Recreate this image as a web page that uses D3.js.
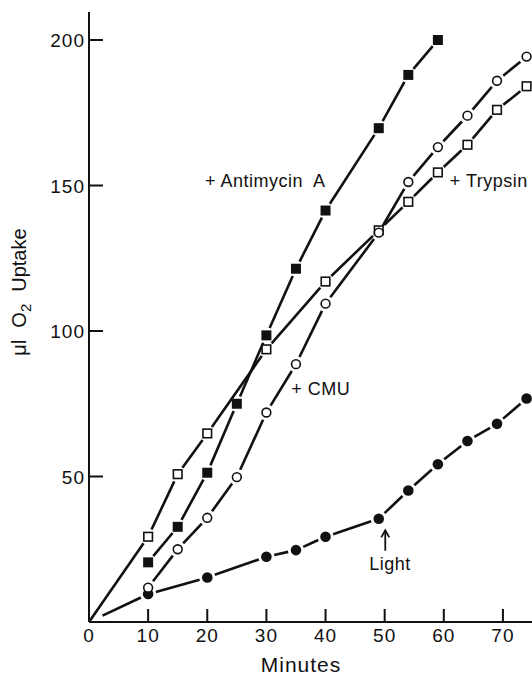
<!DOCTYPE html>
<html>
<head>
<meta charset="utf-8">
<script src="https://cdn.jsdelivr.net/npm/d3@7"></script>
<style>
  body { margin: 0; background: #fff; }
  svg { display: block; }
  text { font-family: "Liberation Sans", Arial, sans-serif; fill: #111; }
</style>
</head>
<body>
<div id="chart"></div>
<script>
// minutes / ul O2
const antimycinMin = [10, 15, 20, 25, 30, 35, 40, 49, 54, 59];
const antimycinO2 = [20.5, 32.7, 51.3, 75, 98.5, 121.4, 141.4, 169.7, 188, 200];

const trypsinMin = [10, 15, 20, 30, 40, 49, 54, 59, 64, 69, 74];
const trypsinO2 = [29.3, 50.8, 64.8, 93.7, 117, 134.6, 144.4, 154.5, 164, 176, 184.1];

const cmuMin = [10, 15, 20, 25, 30, 35, 40, 49, 54, 59, 64, 69, 74];
const cmuO2 = [11.8, 25, 35.8, 49.8, 72, 88.6, 109.4, 133.8, 151.2, 163.2, 174, 186, 194.3];

const lightMin = [10, 20, 30, 35, 40, 49, 54, 59, 64, 69, 74];
const lightO2 = [9.6, 15.3, 22.4, 24.7, 29.3, 35.5, 45.2, 54.2, 62.2, 68.1, 76.8];

const xTicks = [0, 10, 20, 30, 40, 50, 60, 70];
const yTicks = [50, 100, 150, 200];

(function() {
  const W = 532, H = 677;
  const x = d3.scaleLinear().domain([0, 75]).range([89, 532.5]);
  const y = d3.scaleLinear().domain([0, 200]).range([622, 40]);

  const svg = d3.select("#chart").append("svg")
    .attr("width", W).attr("height", H);

  const zip = (a, b) => a.map((v, i) => ({ t: v, v: b[i] }));

  const series = [
    { name: "trypsin", pts: zip(trypsinMin, trypsinO2), marker: "openSquare", origin: 0 },
    { name: "light", pts: zip(lightMin, lightO2), marker: "dot", origin: 15 },
    { name: "cmu", pts: zip(cmuMin, cmuO2), marker: "openCircle", origin: null },
    { name: "antimycin", pts: zip(antimycinMin, antimycinO2), marker: "square", origin: null }
  ];

  // axes
  const ax = svg.append("g").attr("stroke", "#111").attr("stroke-width", 2);
  ax.append("line").attr("x1", x(0)).attr("x2", x(0)).attr("y1", 12).attr("y2", y(0));
  ax.append("line").attr("x1", x(0)).attr("x2", W).attr("y1", y(0)).attr("y2", y(0));

  ax.selectAll(".yt").data(yTicks).enter().append("line")
    .attr("x1", x(0)).attr("x2", x(0) + 14)
    .attr("y1", d => y(d)).attr("y2", d => y(d));
  ax.selectAll(".xt").data(xTicks.filter(d => d > 0)).enter().append("line")
    .attr("x1", d => x(d)).attr("x2", d => x(d))
    .attr("y1", y(0)).attr("y2", y(0) - 13);

  svg.selectAll(".ylab").data(yTicks).enter().append("text")
    .attr("x", x(0) - 4).attr("y", d => y(d) + 7)
    .attr("text-anchor", "end")
    .style("font-size", "19px").style("letter-spacing", "1px")
    .text(d => d);

  svg.selectAll(".xlab").data(xTicks).enter().append("text")
    .attr("x", d => x(d)).attr("y", y(0) + 20)
    .attr("text-anchor", "middle")
    .style("font-size", "19px").style("letter-spacing", "1px")
    .text(d => d);

  svg.append("text")
    .attr("x", 301).attr("y", 672)
    .attr("text-anchor", "middle")
    .style("font-size", "21px").style("letter-spacing", "1px")
    .text("Minutes");

  const yl = svg.append("text")
    .attr("transform", "translate(26, 292) rotate(-90)")
    .attr("text-anchor", "middle")
    .style("font-size", "20px");
  yl.append("tspan").text("μl");
  yl.append("tspan").attr("dx", 12).text("O");
  yl.append("tspan").attr("dy", 5).style("font-size", "15px").text("2");
  yl.append("tspan").attr("dy", -5).attr("dx", 12).text("Uptake");

  // connecting segments, broken around markers
  const gap = 8;
  const lines = svg.append("g").attr("stroke", "#111").attr("stroke-width", 2.6)
    .attr("stroke-linecap", "butt");

  series.forEach(s => {
    const px = s.pts.map(p => [x(p.t), y(p.v)]);
    const segs = [];
    if (s.origin !== null) segs.push({ a: [x(0), y(0)], b: px[0], ga: s.origin, gb: gap });
    for (let i = 1; i < px.length; i++) segs.push({ a: px[i - 1], b: px[i], ga: gap, gb: gap });
    segs.forEach(sg => {
      const dx = sg.b[0] - sg.a[0], dy = sg.b[1] - sg.a[1];
      const len = Math.hypot(dx, dy);
      const ux = dx / len, uy = dy / len;
      lines.append("line")
        .attr("x1", sg.a[0] + ux * sg.ga).attr("y1", sg.a[1] + uy * sg.ga)
        .attr("x2", sg.b[0] - ux * sg.gb).attr("y2", sg.b[1] - uy * sg.gb);
    });
  });

  // markers
  series.forEach(s => {
    const g = svg.append("g").attr("class", s.name);
    const sel = g.selectAll("m").data(s.pts).enter();
    if (s.marker === "square") {
      sel.append("rect")
        .attr("x", d => x(d.t) - 5).attr("y", d => y(d.v) - 5)
        .attr("width", 10).attr("height", 10).attr("fill", "#111");
    } else if (s.marker === "openSquare") {
      sel.append("rect")
        .attr("x", d => x(d.t) - 4.3).attr("y", d => y(d.v) - 4.3)
        .attr("width", 8.6).attr("height", 8.6)
        .attr("fill", "#fff").attr("stroke", "#111").attr("stroke-width", 1.6);
    } else if (s.marker === "openCircle") {
      sel.append("circle")
        .attr("cx", d => x(d.t)).attr("cy", d => y(d.v)).attr("r", 4.4)
        .attr("fill", "#fff").attr("stroke", "#111").attr("stroke-width", 1.6);
    } else {
      sel.append("circle")
        .attr("cx", d => x(d.t)).attr("cy", d => y(d.v)).attr("r", 5.3)
        .attr("fill", "#111");
    }
  });

  // annotations
  const note = (t, v, str, anchor) => svg.append("text")
    .attr("x", x(t)).attr("y", y(v))
    .attr("text-anchor", anchor || "start")
    .style("font-size", "18px").style("letter-spacing", "0.5px")
    .attr("xml:space", "preserve")
    .text(str);

  note(19.6, 149.5, "+ Antimycin  A");
  note(61, 149.5, "+ Trypsin");
  note(34.2, 78, "+ CMU");
  note(50.9, 17.8, "Light", "middle");

  // arrow pointing to light-on point
  const ar = svg.append("g").attr("stroke", "#111").attr("stroke-width", 1.8).attr("fill", "none");
  ar.append("line").attr("x1", x(50.1)).attr("x2", x(50.1)).attr("y1", y(31.5)).attr("y2", y(24.5));
  ar.append("path").attr("d", `M${x(50.1) - 4},${y(31.5) + 7}L${x(50.1)},${y(31.5)}L${x(50.1) + 4},${y(31.5) + 7}`);
})();
</script>
</body>
</html>
